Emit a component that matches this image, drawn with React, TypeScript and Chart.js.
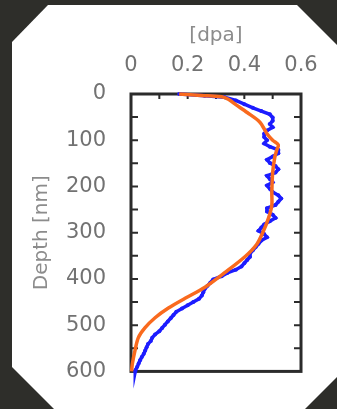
import React, { useEffect, useRef } from "react";
import { Chart, registerables } from "chart.js";

Chart.register(...registerables);

// Measured profile (blue)
const blueDepth = [0, 4, 7, 14, 22, 30, 37, 44, 51, 58, 65, 72, 79, 86, 93, 100, 107, 114, 121, 128, 135, 142, 149, 156, 163, 170, 177, 184, 191, 198, 205, 212, 219, 226, 233, 240, 247, 254, 261, 268, 275, 282, 289, 296, 303, 310, 317, 324, 331, 338, 345, 352, 359, 366, 373, 380, 387, 394, 401, 408, 415, 422, 429, 436, 443, 450, 457, 464, 471, 478, 485, 492, 499, 506, 513, 520, 527, 534, 541, 548, 555, 562, 569, 576, 583, 590, 597, 600];
const blueDpa = [0.17, 0.26, 0.33, 0.37, 0.40, 0.43, 0.46, 0.49, 0.50, 0.50, 0.49, 0.50, 0.48, 0.47, 0.47, 0.48, 0.47, 0.49, 0.52, 0.52, 0.50, 0.48, 0.49, 0.51, 0.52, 0.51, 0.48, 0.49, 0.50, 0.48, 0.49, 0.50, 0.52, 0.53, 0.52, 0.51, 0.48, 0.48, 0.50, 0.51, 0.49, 0.47, 0.46, 0.45, 0.47, 0.48, 0.46, 0.45, 0.44, 0.43, 0.42, 0.42, 0.41, 0.40, 0.39, 0.37, 0.34, 0.32, 0.29, 0.28, 0.27, 0.26, 0.255, 0.25, 0.24, 0.22, 0.20, 0.18, 0.16, 0.15, 0.14, 0.13, 0.12, 0.11, 0.10, 0.085, 0.075, 0.07, 0.06, 0.055, 0.05, 0.045, 0.038, 0.032, 0.027, 0.022, 0.016, 0.015];

// Simulated profile (orange)
const orangeDepth = [0, 3, 6, 12, 23, 40, 61, 86, 100, 110, 120, 135, 170, 213, 241, 269, 297, 325, 351, 386, 418, 442, 463, 484, 506, 527, 555, 583, 600];
const orangeDpa = [0.17, 0.25, 0.32, 0.345, 0.37, 0.41, 0.455, 0.48, 0.50, 0.52, 0.515, 0.508, 0.50, 0.497, 0.497, 0.485, 0.467, 0.444, 0.404, 0.332, 0.261, 0.191, 0.132, 0.085, 0.049, 0.026, 0.014, 0.005, 0.002];

const xMinorTicks = [0.1, 0.2, 0.3, 0.4, 0.5];
const yMinorTicks = [50, 100, 150, 200, 250, 300, 350, 400, 450, 500, 550];

const FRAME = "#2b2b2b";
const TICK_COLOR = "#727272";
const TITLE_COLOR = "#8c8c8c";
const FONT = "'DejaVu Sans', sans-serif";

const framePlugin = {
  id: "frame",
  beforeDatasetsDraw(chart: any) {
    const { ctx, chartArea: a, scales } = chart;
    ctx.save();
    ctx.strokeStyle = FRAME;
    ctx.lineWidth = 3;
    ctx.strokeRect(a.left, a.top, a.right - a.left, a.bottom - a.top);
    ctx.lineWidth = 2;
    ctx.beginPath();
    for (const v of yMinorTicks) {
      const y = scales.y.getPixelForValue(v);
      ctx.moveTo(a.left, y);
      ctx.lineTo(a.left + 7, y);
      ctx.moveTo(a.right, y);
      ctx.lineTo(a.right - 7, y);
    }
    for (const v of xMinorTicks) {
      const x = scales.x.getPixelForValue(v);
      ctx.moveTo(x, a.top);
      ctx.lineTo(x, a.top + 5);
    }
    ctx.stroke();
    ctx.restore();
  },
};

export default function App() {
  const ref = useRef<HTMLCanvasElement>(null);
  useEffect(() => {
    if (!ref.current) return;
    const orange = orangeDepth.map((d, i) => ({ x: orangeDpa[i], y: d }));
    const blue = blueDepth.map((d, i) => ({ x: blueDpa[i], y: d }));
    const chart = new Chart(ref.current, {
      type: "scatter",
      data: {
        datasets: [
          {
            label: "sim",
            data: orange,
            showLine: true,
            borderColor: "#f96a1e",
            backgroundColor: "#f96a1e",
            borderWidth: 3.5,
            pointRadius: 0,
            tension: 0.3,
            clip: false as any,
          },
          {
            label: "meas",
            data: blue,
            showLine: true,
            borderColor: "#1c1cff",
            backgroundColor: "#1c1cff",
            borderWidth: 3.5,
            pointRadius: 2,
            pointBorderWidth: 0,
            tension: 0,
            clip: false as any,
          },
        ],
      },
      options: {
        responsive: false,
        animation: false,
        events: [],
        layout: { padding: { left: 8, top: 8, right: 36, bottom: 31 } },
        plugins: { legend: { display: false }, tooltip: { enabled: false } },
        scales: {
          x: {
            type: "linear",
            position: "top",
            min: 0,
            max: 0.6,
            border: { display: false },
            grid: { display: false, drawTicks: false },
            ticks: {
              stepSize: 0.2,
              autoSkip: false,
              maxRotation: 0,
              padding: 16,
              color: TICK_COLOR,
              font: { family: FONT, size: 21 },
            },
            title: {
              display: true,
              text: "[dpa]",
              color: TITLE_COLOR,
              font: { family: FONT, size: 20 },
              padding: { top: 16, bottom: 0 },
            },
            afterFit(scale: any) {
              scale.height = 94 - 8;
            },
          },
          y: {
            type: "linear",
            position: "left",
            reverse: true,
            min: 0,
            max: 600,
            border: { display: false },
            grid: { display: false, drawTicks: false },
            ticks: {
              stepSize: 100,
              autoSkip: false,
              padding: 25,
              color: TICK_COLOR,
              font: { family: FONT, size: 21 },
            },
            title: {
              display: true,
              text: "Depth [nm]",
              color: TITLE_COLOR,
              font: { family: FONT, size: 20 },
              padding: { top: 22, bottom: 0 },
            },
            afterFit(scale: any) {
              scale.width = 131 - 8;
            },
          },
        },
      },
      plugins: [framePlugin],
    });
    return () => chart.destroy();
  }, []);

  const card =
    "polygon(12px 42px, 48px 5px, 297px 5px, 337px 45px, 337px 377px, 305px 409px, 54px 409px, 12px 367px)";
  return (
    <div style={{ position: "fixed", left: 0, top: 0, width: 337, height: 409, background: "#2e2e2a" }}>
      <div style={{ position: "absolute", left: 0, top: 0, width: 337, height: 409, background: "#ffffff", clipPath: card }} />
      <canvas ref={ref} width={337} height={409} style={{ position: "absolute", left: 0, top: 0 }} />
    </div>
  );
}
